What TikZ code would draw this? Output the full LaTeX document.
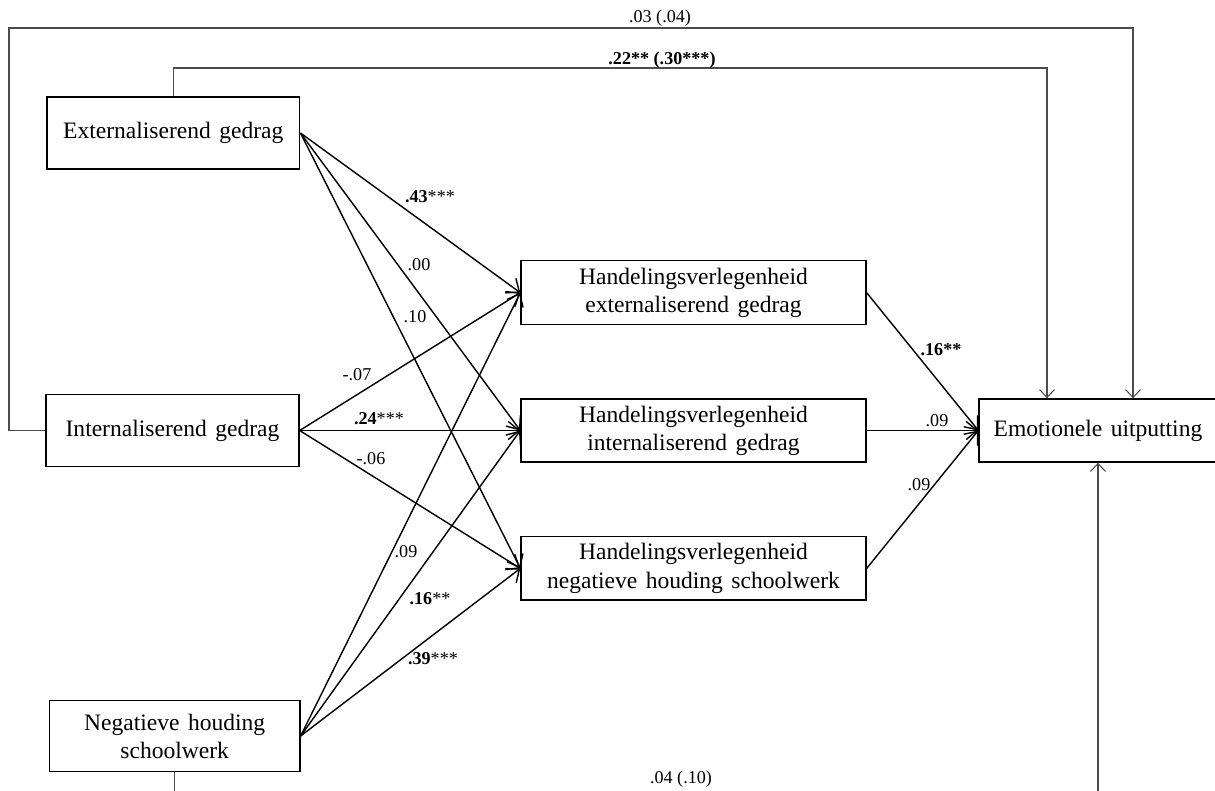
\documentclass[tikz,border=0pt]{standalone}
\usepackage{fontspec}
\setmainfont{Liberation Serif}
\usepackage{tikz}
\usetikzlibrary{arrows.meta}
\newcommand\varfont{\fontsize{13.4}{16}\selectfont\spaceskip=0.36em\relax}
\tikzstyle{Var}=[rectangle, draw=black, line width=0.8pt, align=center, inner sep=0pt, font=\varfont]
\tikzstyle{Coef}=[inner sep=1pt, font=\fontsize{10.3}{12}\selectfont]
\tikzstyle{Path}=[line width=0.8pt, -{Straight Barb[length=2.2mm,width=3.6mm]}]
\tikzstyle{Direct}=[line width=0.6pt, draw=black!70, -{Straight Barb[length=1.6mm,width=3mm]}]

\begin{document}
\begin{tikzpicture}[x=0.02cm, y=-0.02cm]
    \clip (0,0) rectangle (1215,791);
    \path
    (173.3,133) node[Var, minimum width=5.06cm, minimum height=1.44cm] (ext) {Externaliserend gedrag}
    (172.5,430.5) node[Var, minimum width=5.06cm, minimum height=1.45cm] (int) {Internaliserend gedrag}
    (174.7,736) node[Var, minimum width=5.01cm, minimum height=1.42cm] (neg) {Negatieve houding\\schoolwerk}
    (693.5,292.7) node[Var, minimum width=6.9cm, minimum height=1.28cm] (hext) {Handelingsverlegenheid\\externaliserend gedrag}
    (693.5,430.5) node[Var, minimum width=6.9cm, minimum height=1.26cm] (hint) {Handelingsverlegenheid\\internaliserend gedrag}
    (693.5,568.4) node[Var, minimum width=6.9cm, minimum height=1.27cm] (hneg) {Handelingsverlegenheid\\negatieve houding schoolwerk}
    (1098,430.5) node[Var, minimum width=4.76cm, minimum height=1.26cm] (emo) {Emotionele uitputting};

    % mediators
    \draw[Path] (ext.east) -- (hext.west);
    \draw[Path] (ext.east) -- (hint.west);
    \draw[Path] (ext.east) -- (hneg.west);
    \draw[Path] (int.east) -- (hext.west);
    \draw[Path] (int.east) -- (hint.west);
    \draw[Path] (int.east) -- (hneg.west);
    \draw[Path] (neg.east) -- (hext.west);
    \draw[Path] (neg.east) -- (hint.west);
    \draw[Path] (neg.east) -- (hneg.west);
    \draw[Path] (hext.east) -- (emo.west);
    \draw[Path] (hint.east) -- (emo.west);
    \draw[Path] (hneg.east) -- (emo.west);

    % direct effects
    \coordinate (topout) at (9,28);
    \coordinate (topin) at (0,68);
    \coordinate (bottom) at (0,810);
    \draw[Direct] (int.west) -| (topout) -| ([xshift=0.7cm]emo.north);
    \draw[Direct] (ext.north) -- (ext.north |- topin) -| ([xshift=-1.02cm]emo.north);
    \draw[Direct] (neg.south) -- (neg.south |- bottom) -| (emo.south);

    \path
    (430,197) node[Coef] (c1) {\textbf{.43}***}
    (419,265) node[Coef] (c2) {.00}
    (415,317) node[Coef] (c3) {.10}
    (357,375) node[Coef] (c4) {-.07}
    (379,419) node[Coef] (c5) {\textbf{.24}***}
    (371,459) node[Coef] (c6) {-.06}
    (406,552) node[Coef] (c7) {.09}
    (430,599) node[Coef] (c8) {\textbf{.16}**}
    (433,659) node[Coef] (c9) {\textbf{.39}***}
    (941,350) node[Coef] (c10) {\textbf{.16**}}
    (937,421) node[Coef] (c11) {.09}
    (919,485) node[Coef] (c12) {.09}
    (660,18) node[Coef] (c13) {.03 (.04)}
    (662,60) node[Coef] (c14) {\textbf{.22** (.30***)}}
    (681,779) node[Coef] (c15) {.04 (.10)};
\end{tikzpicture}
\end{document}
